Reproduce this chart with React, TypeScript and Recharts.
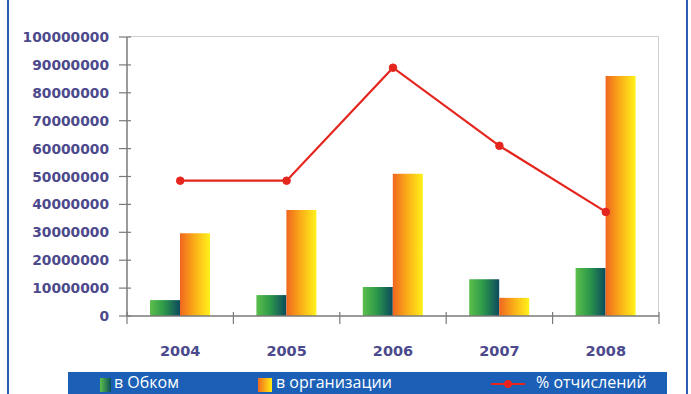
import React from "react";
import {
  ComposedChart,
  Bar,
  Line,
  XAxis,
  YAxis,
  Legend,
} from "recharts";

const years = ["2004", "2005", "2006", "2007", "2008"];
const obkom = [5700000, 7500000, 10400000, 13200000, 17200000];
const organizations = [29700000, 38000000, 51000000, 6500000, 86000000];
const percentLine = [48500000, 48500000, 89000000, 61000000, 37300000];
const yTicks = [0, 10000000, 20000000, 30000000, 40000000, 50000000, 60000000, 70000000, 80000000, 90000000, 100000000];

const data = years.map((y, i) => ({
  year: y,
  obkom: obkom[i],
  org: organizations[i],
  pct: percentLine[i],
}));

const TICK_COLOR = "#4c4a8c";
const AXIS_COLOR = "#7a7a7a";
const FONT = "'DejaVu Sans', sans-serif";

const YTick = (props: any) => {
  const { x, y, payload } = props;
  return (
    <g>
      <line x1={x} x2={x + 12} y1={y} y2={y} stroke={AXIS_COLOR} strokeWidth={1.2} />
      <text
        x={x - 10}
        y={y}
        dy={5}
        textAnchor="end"
        fill={TICK_COLOR}
        fontFamily={FONT}
        fontWeight="bold"
        fontSize={13.8}
      >
        {payload.value}
      </text>
    </g>
  );
};

const XTick = (props: any) => {
  const { x, y, payload } = props;
  const half = payload && payload.offset ? payload.offset : 53;
  return (
    <g>
      <line x1={x + half} x2={x + half} y1={y - 12} y2={y} stroke={AXIS_COLOR} strokeWidth={1.2} />
      {payload.index === 0 ? (
        <line x1={x - half} x2={x - half} y1={y - 12} y2={y} stroke={AXIS_COLOR} strokeWidth={1.2} />
      ) : null}
      <text
        x={x}
        y={y + 32}
        textAnchor="middle"
        fill={TICK_COLOR}
        fontFamily={FONT}
        fontWeight="bold"
        fontSize={14.5}
      >
        {payload.value}
      </text>
    </g>
  );
};

const LegendContent = () => (
  <div
    style={{
      width: 599,
      height: 22,
      background: "#1b60b6",
      position: "relative",
      fontFamily: "'Open Sans', sans-serif",
      fontSize: 16,
      color: "#ffffff",
      overflow: "hidden",
    }}
  >
    <div
      style={{
        position: "absolute",
        left: 32,
        top: 6,
        width: 11,
        height: 14,
        background: "linear-gradient(to right, #5cc048, #0a4f5c)",
      }}
    />
    <span style={{ position: "absolute", left: 46, top: 0, lineHeight: "21px" }}>в Обком</span>
    <div
      style={{
        position: "absolute",
        left: 190,
        top: 6,
        width: 14,
        height: 14,
        background: "linear-gradient(to right, #f26a1f, #ffee10)",
      }}
    />
    <span style={{ position: "absolute", left: 208, top: 0, lineHeight: "21px" }}>в организации</span>
    <div
      style={{
        position: "absolute",
        left: 423,
        top: 11,
        width: 34,
        height: 2,
        background: "#e8261f",
      }}
    />
    <div
      style={{
        position: "absolute",
        left: 436,
        top: 8,
        width: 8,
        height: 8,
        borderRadius: 4,
        background: "#e8261f",
      }}
    />
    <span style={{ position: "absolute", left: 468, top: 0, lineHeight: "21px" }}>% отчислений</span>
  </div>
);

export default function App() {
  return (
    <div
      style={{
        position: "fixed",
        left: 0,
        top: 0,
        width: 691,
        height: 394,
        background: "#ffffff",
        overflow: "hidden",
      }}
    >
      <div style={{ position: "absolute", left: 7, top: 0, width: 2, height: 394, background: "#2a5db3" }} />
      <div style={{ position: "absolute", left: 686, top: 0, width: 2, height: 394, background: "#2a5db3" }} />
      <div style={{ position: "absolute", left: 128, top: 36, width: 531, height: 1, background: "#cfcfcf" }} />
      <div style={{ position: "absolute", left: 658, top: 36, width: 1, height: 280, background: "#cfcfcf" }} />
      <ComposedChart
        width={691}
        height={394}
        data={data}
        margin={{ top: 37, right: 32, left: 0, bottom: 0 }}
        barGap={0}
        style={{ position: "absolute", left: 0, top: 0 }}
      >
        <defs>
          <linearGradient id="gGreen" x1="0" y1="0" x2="1" y2="0">
            <stop offset="0%" stopColor="#5cbf4a" />
            <stop offset="45%" stopColor="#2e9a4a" />
            <stop offset="100%" stopColor="#0b4a5e" />
          </linearGradient>
          <linearGradient id="gOrange" x1="0" y1="0" x2="1" y2="0">
            <stop offset="0%" stopColor="#f0661f" />
            <stop offset="50%" stopColor="#fbb018" />
            <stop offset="100%" stopColor="#fff21a" />
          </linearGradient>
        </defs>
        <XAxis
          dataKey="year"
          xAxisId="main"
          height={56}
          stroke={AXIS_COLOR}
          strokeWidth={1.5}
          tickLine={false}
          tick={<XTick />}
          interval={0}
        />
        <YAxis
          yAxisId="main"
          width={127}
          domain={[0, 100000000]}
          ticks={yTicks}
          interval={0}
          stroke={AXIS_COLOR}
          strokeWidth={1.5}
          tickLine={false}
          tick={<YTick />}
          allowDataOverflow
        />
        <Legend
          verticalAlign="bottom"
          height={22}
          content={<LegendContent />}
          wrapperStyle={{ left: 68, top: 372, width: 599, height: 22, bottom: "auto" }}
        />
        <Bar dataKey="obkom" xAxisId="main" yAxisId="main" barSize={30} fill="url(#gGreen)" isAnimationActive={false} />
        <Bar dataKey="org" xAxisId="main" yAxisId="main" barSize={30} fill="url(#gOrange)" isAnimationActive={false} />
        <Line
          dataKey="pct"
          xAxisId="main"
          yAxisId="main"
          stroke="#e4261f"
          strokeWidth={2.2}
          dot={{ r: 3.8, fill: "#e4261f", stroke: "#e4261f", strokeWidth: 1 }}
          isAnimationActive={false}
        />
      </ComposedChart>
    </div>
  );
}
